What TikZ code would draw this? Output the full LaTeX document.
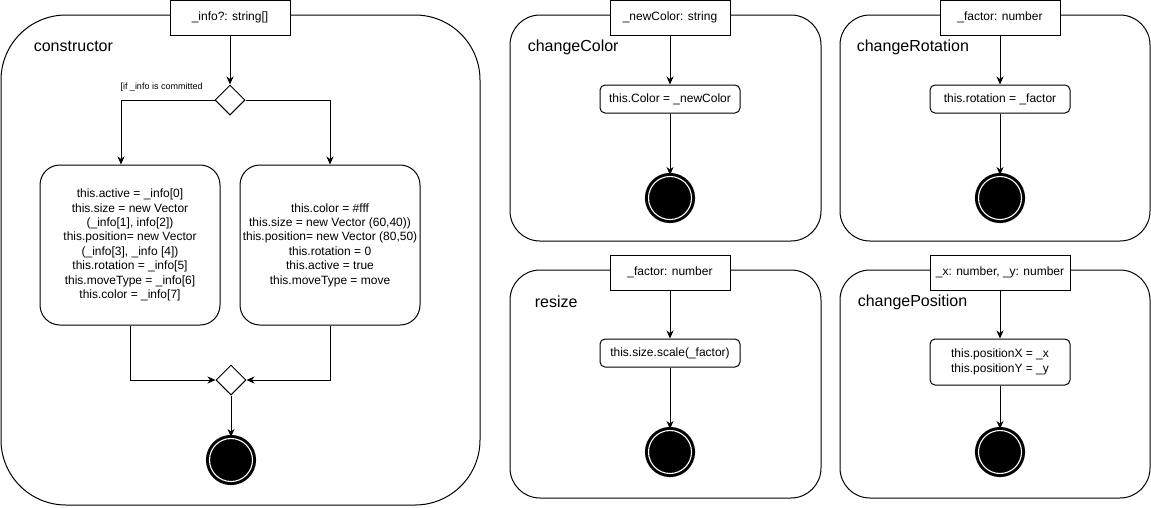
\documentclass[tikz,border=0pt]{standalone}
\usepackage{fontspec}
\setmainfont{Liberation Sans}
\usepackage{tikz}
\usetikzlibrary{shapes.geometric,arrows.meta}
\tikzset{frame/.style={draw, rounded corners=30pt, minimum width=311pt, inner sep=0pt}}
\tikzset{param/.style={draw, fill=white, minimum width=120pt, minimum height=35pt, inner sep=0pt}}
\tikzset{action/.style={draw, rounded corners=5pt, minimum width=140pt, minimum height=28pt, inner sep=0pt}}
\tikzset{decision/.style={draw, shape=diamond, minimum size=30pt, inner sep=0pt, fill=white}}
\tikzset{final/.style={shape=circle, draw=black, fill=black, line width=3pt, double=white, double distance=1.1pt, minimum size=43pt, inner sep=0pt}}
\tikzset{title/.style={anchor=west, font=\fontsize{16}{19}\selectfont}}
\tikzset{arrow/.style={-{Stealth[length=8pt,width=7pt,inset=2.5pt]}}}

\begin{document}
\begin{tikzpicture}[x=1pt, y=-1pt, line width=1pt]
	% Default action for each node
	\tikzstyle{every node}=[font=\fontsize{12}{14.4}\selectfont];

	\useasboundingbox (0,0) rectangle (1151,507);

	% CONSTRUCTOR
	\node[frame, rounded corners=65pt, minimum width=479pt, minimum height=490pt] (ctor frame) at (240.5,260) {};
	\node[title] (ctor title) at (30,46) {constructor};
	\node[param] (ctor param) at (230,17.5) {\_info?: string[]};
	\node[decision] (ctor split) at (230,100) {};
	\node[font=\fontsize{9}{11}\selectfont, anchor=west, inner sep=0pt] (ctor guard) at (120,87) {[if \_info is committed};

	\node[action, rounded corners=20pt, minimum width=180pt, minimum height=160pt, align=center] (ctor left) at (130,245)
		{this.active = \_info[0]\\ this.size = new Vector\\ (\_info[1], info[2])\\ this.position= new Vector\\ (\_info[3], \_info [4])\\ this.rotation = \_info[5]\\ this.moveType = \_info[6]\\ this.color = \_info[7]};
	\node[action, rounded corners=20pt, minimum width=180pt, minimum height=160pt, align=center] (ctor right) at (330,245)
		{this.color = \#fff\\ this.size = new Vector (60,40))\\ this.position= new Vector (80,50)\\ this.rotation = 0\\ this.active = true\\ this.moveType = move};

	\node[decision] (ctor merge) at (231,380) {};
	\node[final] (ctor end) at (231,460) {};

	\draw[arrow] (ctor param) -- (ctor split);
	\draw[arrow] (ctor split.west) -| ([xshift=-9pt]ctor left.north);
	\draw[arrow] (ctor split.east) -| (ctor right.north);
	\draw[arrow] (ctor left.south) |- (ctor merge.west);
	\draw[arrow] (ctor right.south) |- (ctor merge.east);
	\draw[arrow] (ctor merge) -- (ctor end);

	% CHANGECOLOR
	\node[frame, minimum height=226pt] (color frame) at (665.5,128) {};
	\node[title] (color title) at (524,47) {changeColor};
	\node[param] (color param) at (670,17.5) {\_newColor: string};
	\node[action] (color act) at (670,99) {this.Color = \_newColor};
	\node[final] (color end) at (670,198) {};

	\draw[arrow] (color param) -- (color act);
	\draw[arrow] (color act) -- (color end);

	% CHANGEROTATION
	\node[frame, minimum width=310pt, minimum height=226pt] (rot frame) at (995,128) {};
	\node[title] (rot title) at (853,47) {changeRotation};
	\node[param] (rot param) at (1000,17.5) {\_factor: number};
	\node[action] (rot act) at (1000,99) {this.rotation = \_factor};
	\node[final] (rot end) at (1000,198) {};

	\draw[arrow] (rot param) -- (rot act);
	\draw[arrow] (rot act) -- (rot end);

	% RESIZE
	\node[frame, minimum height=228pt] (size frame) at (665.5,384) {};
	\node[title] (size title) at (531,302) {resize};
	\node[param] (size param) at (670,272.5) {\_factor: number};
	\node[action] (size act) at (670,353) {this.size.scale(\_factor)};
	\node[final] (size end) at (670,452) {};

	\draw[arrow] (size param) -- (size act);
	\draw[arrow] (size act) -- (size end);

	% CHANGEPOSITION
	\node[frame, minimum width=310pt, minimum height=228pt] (pos frame) at (995,384) {};
	\node[title] (pos title) at (854,302) {changePosition};
	\node[param, minimum width=140pt] (pos param) at (1000,272.5) {\_x: number, \_y: number};
	\node[action, minimum height=46pt, align=center] (pos act) at (1000,362) {this.positionX = \_x\\ this.positionY = \_y};
	\node[final] (pos end) at (1000,452) {};

	\draw[arrow] (pos param) -- (pos act);
	\draw[arrow] (pos act) -- (pos end);

\end{tikzpicture}
\end{document}
